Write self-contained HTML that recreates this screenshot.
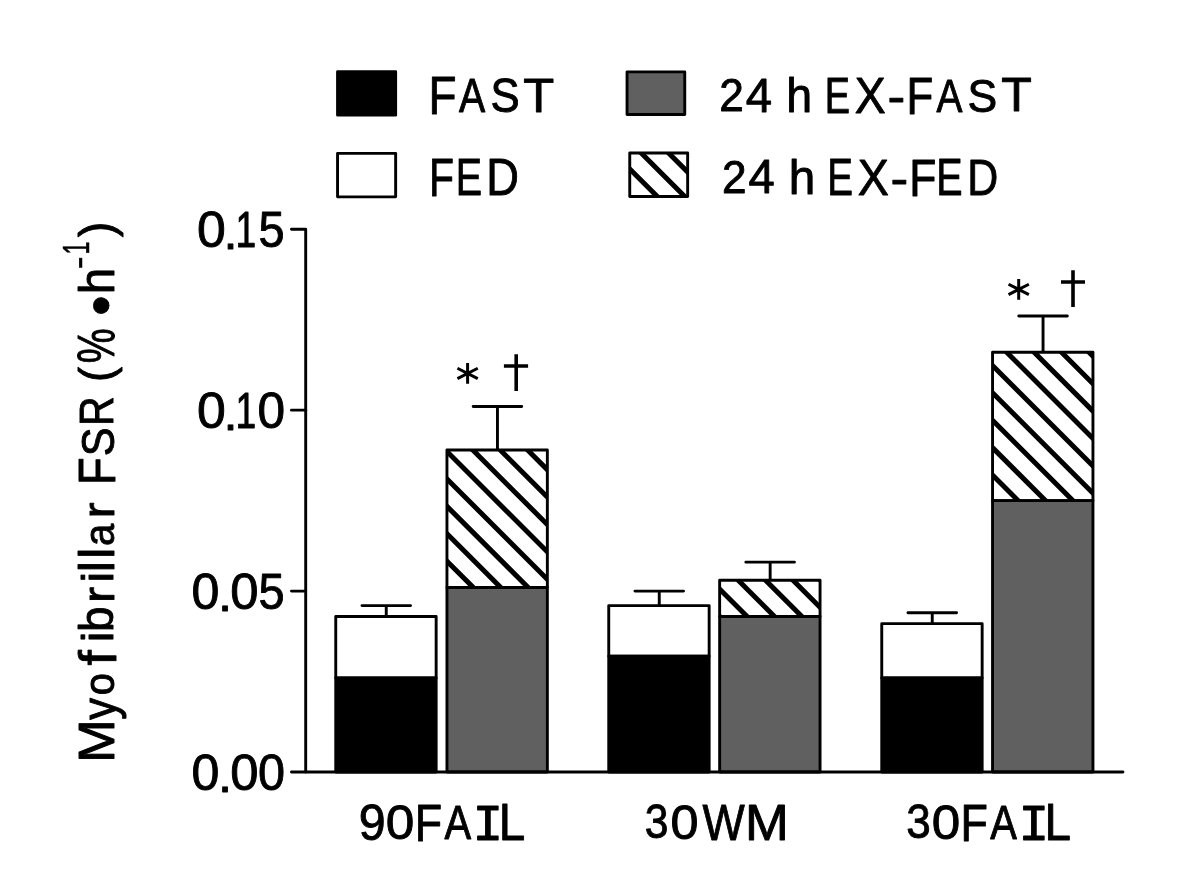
<!DOCTYPE html>
<html lang="en"><head><meta charset="utf-8"><title>Myofibrillar FSR</title>
<style>html,body{margin:0;padding:0;background:#fff}body{width:1200px;height:895px;overflow:hidden}svg{display:block}g.t{will-change:opacity}rect{stroke-linejoin:round}text{font-family:"Liberation Sans",sans-serif;fill:#000;white-space:pre;stroke:#000;stroke-linejoin:round}.m{font-family:"Liberation Mono",monospace}</style>
</head><body>
<svg width="1200" height="895" viewBox="0 0 1200 895">
<defs><clipPath id="c1"><rect x="446.95" y="449.96" width="100.4" height="137.52"/></clipPath><clipPath id="c3"><rect x="719.65" y="580.24" width="100.4" height="36.19"/></clipPath><clipPath id="c5"><rect x="992.55" y="352.25" width="100.4" height="148.38"/></clipPath><clipPath id="cl"><rect x="629.75" y="153.05" width="57.9" height="43.4"/></clipPath></defs>
<rect width="1200" height="895" fill="#fff"/>
<path d="M386.25 616.43 V605.58 M361.95 605.58 H410.55" fill="none" stroke="#000" stroke-width="2.9" stroke-linecap="round"/>
<rect x="335.75" y="616.43" width="100.4" height="61.52" fill="#fff" stroke="#000" stroke-width="2.9"/>
<rect x="335.75" y="677.96" width="100.4" height="94.09" fill="#000" stroke="#000" stroke-width="2.9"/>
<path d="M497.45 449.96 V406.53 M473.15 406.53 H521.75" fill="none" stroke="#000" stroke-width="2.9" stroke-linecap="round"/>
<rect x="446.95" y="449.96" width="100.4" height="137.52" fill="#fff"/>
<path clip-path="url(#c1)" d="M298.38 439.96 L455.9 597.48 M325.78 439.96 L483.3 597.48 M353.18 439.96 L510.7 597.48 M380.58 439.96 L538.1 597.48 M407.98 439.96 L565.5 597.48 M435.38 439.96 L592.9 597.48 M462.78 439.96 L620.3 597.48 M490.18 439.96 L647.7 597.48 M517.58 439.96 L675.1 597.48 M544.98 439.96 L702.5 597.48" fill="none" stroke="#000" stroke-width="5"/>
<rect x="446.95" y="449.96" width="100.4" height="137.52" fill="none" stroke="#000" stroke-width="2.9"/>
<rect x="446.95" y="587.48" width="100.4" height="184.57" fill="#606060" stroke="#000" stroke-width="2.9"/>
<path d="M659.25 605.58 V591.1 M634.95 591.1 H683.55" fill="none" stroke="#000" stroke-width="2.9" stroke-linecap="round"/>
<rect x="608.75" y="605.58" width="100.4" height="50.67" fill="#fff" stroke="#000" stroke-width="2.9"/>
<rect x="608.75" y="656.24" width="100.4" height="115.81" fill="#000" stroke="#000" stroke-width="2.9"/>
<path d="M770.15 580.24 V562.15 M745.85 562.15 H794.45" fill="none" stroke="#000" stroke-width="2.9" stroke-linecap="round"/>
<rect x="719.65" y="580.24" width="100.4" height="36.19" fill="#fff"/>
<path clip-path="url(#c3)" d="M673.41 570.24 L729.6 626.43 M700.81 570.24 L757 626.43 M728.21 570.24 L784.4 626.43 M755.61 570.24 L811.8 626.43 M783.01 570.24 L839.2 626.43 M810.41 570.24 L866.6 626.43" fill="none" stroke="#000" stroke-width="5"/>
<rect x="719.65" y="580.24" width="100.4" height="36.19" fill="none" stroke="#000" stroke-width="2.9"/>
<rect x="719.65" y="616.43" width="100.4" height="155.62" fill="#606060" stroke="#000" stroke-width="2.9"/>
<path d="M932.25 623.67 V612.81 M907.95 612.81 H956.55" fill="none" stroke="#000" stroke-width="2.9" stroke-linecap="round"/>
<rect x="881.75" y="623.67" width="100.4" height="54.28" fill="#fff" stroke="#000" stroke-width="2.9"/>
<rect x="881.75" y="677.96" width="100.4" height="94.09" fill="#000" stroke="#000" stroke-width="2.9"/>
<path d="M1043.05 352.25 V316.06 M1018.75 316.06 H1067.35" fill="none" stroke="#000" stroke-width="2.9" stroke-linecap="round"/>
<rect x="992.55" y="352.25" width="100.4" height="148.38" fill="#fff"/>
<path clip-path="url(#c5)" d="M832.32 342.25 L1000.7 510.62 M859.72 342.25 L1028.1 510.62 M887.12 342.25 L1055.5 510.62 M914.52 342.25 L1082.9 510.62 M941.92 342.25 L1110.3 510.62 M969.32 342.25 L1137.7 510.62 M996.72 342.25 L1165.1 510.62 M1024.12 342.25 L1192.5 510.62 M1051.52 342.25 L1219.9 510.62 M1078.92 342.25 L1247.3 510.62" fill="none" stroke="#000" stroke-width="5"/>
<rect x="992.55" y="352.25" width="100.4" height="148.38" fill="none" stroke="#000" stroke-width="2.9"/>
<rect x="992.55" y="500.62" width="100.4" height="271.43" fill="#606060" stroke="#000" stroke-width="2.9"/>
<rect x="337.55" y="71.65" width="58.1" height="43.5" fill="#000" stroke="#000" stroke-width="2.9"/>
<rect x="337.55" y="153.35" width="58.1" height="43.5" fill="#fff" stroke="#000" stroke-width="2.9"/>
<rect x="627.05" y="71.85" width="57.7" height="42.7" fill="#606060" stroke="#000" stroke-width="2.9"/>
<rect x="628.3" y="151.6" width="60.8" height="46.3" fill="#fff"/>
<path clip-path="url(#cl)" d="M602.4 141.6 L668.7 207.9 M629.8 141.6 L696.1 207.9 M657.2 141.6 L723.5 207.9 M684.6 141.6 L750.9 207.9" fill="none" stroke="#000" stroke-width="5"/>
<rect x="629.75" y="153.05" width="57.9" height="43.4" fill="none" stroke="#000" stroke-width="2.9"/>
<path d="M467.6 363 V383.8 M457.44 368.22 L477.76 378.58 M457.44 378.58 L477.76 368.22" fill="none" stroke="#000" stroke-width="3"/>
<path d="M516.2 354.3 V391 M503.9 366 H528.1" fill="none" stroke="#000" stroke-width="3.6"/>
<path d="M1018.7 279 V299.8 M1008.54 284.22 L1028.86 294.58 M1008.54 294.58 L1028.86 284.22" fill="none" stroke="#000" stroke-width="3"/>
<path d="M1073 270.3 V306.9 M1061 282 H1085" fill="none" stroke="#000" stroke-width="3.6"/>
<g fill="none" stroke="#000" stroke-width="2.9" stroke-linecap="round" stroke-linejoin="round">
<path d="M291.45 229.2 H305.7 V772.05"/>
<path d="M291.45 772.05 H1122.95"/>
<path d="M291.45 591.1 H305.7"/>
<path d="M291.45 410.15 H305.7"/>
</g>
<g class="t">
<text y="113.2" font-size="50.2" stroke-width="0.9"><tspan x="428.62" y="114.15" font-size="53.34" textLength="28.03" lengthAdjust="spacingAndGlyphs">F</tspan><tspan x="458.89" y="112.35" font-size="47.82" textLength="26.21" lengthAdjust="spacingAndGlyphs">A</tspan><tspan x="490.43" y="112.49" font-size="47.32" textLength="29.16" lengthAdjust="spacingAndGlyphs">S</tspan><tspan x="523.33" y="112.15" font-size="48.4" textLength="30.96" lengthAdjust="spacingAndGlyphs">T</tspan></text>
<text y="194.9" font-size="50.2" stroke-width="0.9"><tspan x="428.99" y="195.55" font-size="52.91" textLength="25" lengthAdjust="spacingAndGlyphs">F</tspan><tspan x="455.87" y="194.95" font-size="52.62" textLength="26.32" lengthAdjust="spacingAndGlyphs">E</tspan><tspan x="486.28" y="194.95" font-size="51.6" textLength="32.69" lengthAdjust="spacingAndGlyphs">D</tspan></text>
<text y="113.2" font-size="50.2" stroke-width="0.9"><tspan x="719.21" y="111.05" font-size="46.4" textLength="24.59" lengthAdjust="spacingAndGlyphs">2</tspan><tspan x="745.85" y="111.85" font-size="48.84" textLength="26.3" lengthAdjust="spacingAndGlyphs">4</tspan><tspan> </tspan><tspan x="786.21" y="112.25" font-size="48.03" textLength="25.88" lengthAdjust="spacingAndGlyphs">h</tspan><tspan> </tspan><tspan x="824.73" y="112.85" font-size="50.29" textLength="25.26" lengthAdjust="spacingAndGlyphs">E</tspan><tspan x="854.67" y="113.25" font-size="50.29" textLength="30.88" lengthAdjust="spacingAndGlyphs">X</tspan><tspan x="887.54" textLength="17.72" lengthAdjust="spacingAndGlyphs">-</tspan><tspan x="906.58" y="113.75" font-size="51.6" textLength="26.79" lengthAdjust="spacingAndGlyphs">F</tspan><tspan x="936.5" y="111.85" font-size="46.8" textLength="25.9" lengthAdjust="spacingAndGlyphs">A</tspan><tspan x="967.61" y="111.8" font-size="46.04" textLength="29.69" lengthAdjust="spacingAndGlyphs">S</tspan><tspan x="1001.15" y="111.35" font-size="47.53" textLength="30.52" lengthAdjust="spacingAndGlyphs">T</tspan></text>
<text y="194.9" font-size="50.2" stroke-width="0.9"><tspan x="721.9" y="192.75" font-size="46.55" textLength="24.59" lengthAdjust="spacingAndGlyphs">2</tspan><tspan x="748.55" y="193.35" font-size="48.84" textLength="26.19" lengthAdjust="spacingAndGlyphs">4</tspan><tspan> </tspan><tspan x="788.64" y="193.85" font-size="47.89" textLength="26.5" lengthAdjust="spacingAndGlyphs">h</tspan><tspan> </tspan><tspan x="827.23" y="194.85" font-size="51.45" textLength="25.74" lengthAdjust="spacingAndGlyphs">E</tspan><tspan x="857.67" y="194.85" font-size="50.29" textLength="31.09" lengthAdjust="spacingAndGlyphs">X</tspan><tspan x="890.54" textLength="17.72" lengthAdjust="spacingAndGlyphs">-</tspan><tspan x="909.23" y="195.75" font-size="52.33" textLength="27.16" lengthAdjust="spacingAndGlyphs">F</tspan><tspan x="936.31" y="194.85" font-size="51.45" textLength="26.35" lengthAdjust="spacingAndGlyphs">E</tspan><tspan x="967.16" y="194.85" font-size="50.29" textLength="31.01" lengthAdjust="spacingAndGlyphs">D</tspan></text>
<text y="247.1" font-size="49.6" stroke-width="0.9"><tspan x="197.05" y="247.07" font-size="49.43" textLength="28.8" lengthAdjust="spacingAndGlyphs">0</tspan><tspan x="223.63" y="248.75" font-size="47.69" textLength="14.05" lengthAdjust="spacingAndGlyphs">.</tspan><tspan x="235.45" y="246.65" font-size="49.56" textLength="20.67" lengthAdjust="spacingAndGlyphs">1</tspan><tspan x="258.54" y="247.06" font-size="50.16" textLength="26.11" lengthAdjust="spacingAndGlyphs">5</tspan></text>
<text y="428.05" font-size="49.6" stroke-width="0.9"><tspan x="197.05" y="428.02" font-size="49.43" textLength="28.8" lengthAdjust="spacingAndGlyphs">0</tspan><tspan x="223.63" y="429.7" font-size="47.69" textLength="14.05" lengthAdjust="spacingAndGlyphs">.</tspan><tspan x="235.45" y="427.6" font-size="49.56" textLength="20.67" lengthAdjust="spacingAndGlyphs">1</tspan><tspan x="257.51" y="428.02" font-size="49.43" textLength="27.57" lengthAdjust="spacingAndGlyphs">0</tspan></text>
<text y="609" font-size="49.6" stroke-width="0.9"><tspan x="191.6" y="608.97" font-size="49.43" textLength="27.91" lengthAdjust="spacingAndGlyphs">0</tspan><tspan x="218.03" y="610.65" font-size="47.69" textLength="14.05" lengthAdjust="spacingAndGlyphs">.</tspan><tspan x="230.28" y="608.97" font-size="49.43" textLength="28.24" lengthAdjust="spacingAndGlyphs">0</tspan><tspan x="258.54" y="608.96" font-size="50.16" textLength="26.11" lengthAdjust="spacingAndGlyphs">5</tspan></text>
<text y="789.95" font-size="49.6" stroke-width="0.9"><tspan x="191.6" y="789.92" font-size="49.43" textLength="27.91" lengthAdjust="spacingAndGlyphs">0</tspan><tspan x="218.03" y="791.6" font-size="47.69" textLength="14.05" lengthAdjust="spacingAndGlyphs">.</tspan><tspan x="230.28" y="789.92" font-size="49.43" textLength="28.24" lengthAdjust="spacingAndGlyphs">0</tspan><tspan x="258.04" y="789.92" font-size="49.43" textLength="27.01" lengthAdjust="spacingAndGlyphs">0</tspan></text>
<text y="840" font-size="51" stroke-width="0.9"><tspan x="358.77" y="840.06" font-size="49.86" textLength="26.88" lengthAdjust="spacingAndGlyphs">9</tspan><tspan x="385.76" y="839.07" font-size="49.01" textLength="28.57" lengthAdjust="spacingAndGlyphs">0</tspan><tspan x="414.7" y="840.55" font-size="52.47" textLength="27.41" lengthAdjust="spacingAndGlyphs">F</tspan><tspan x="444.4" y="839.15" font-size="47.68" textLength="26.6" lengthAdjust="spacingAndGlyphs">A</tspan><tspan x="472.6" class="m" y="839.55" font-size="51.01" textLength="30.76" lengthAdjust="spacingAndGlyphs">I</tspan><tspan x="498.81" y="840.25" font-size="51.45" textLength="26.45" lengthAdjust="spacingAndGlyphs">L</tspan></text>
<text y="840" font-size="51" stroke-width="0.9"><tspan x="644.78" y="838.49" font-size="47.6" textLength="23.69" lengthAdjust="spacingAndGlyphs">3</tspan><tspan x="670.4" y="839.08" font-size="48.45" textLength="28" lengthAdjust="spacingAndGlyphs">0</tspan><tspan x="702.51" y="839.75" font-size="49.86" textLength="42.24" lengthAdjust="spacingAndGlyphs">W</tspan><tspan x="745.02" y="839.55" font-size="49.56" textLength="43.77" lengthAdjust="spacingAndGlyphs">M</tspan></text>
<text y="840" font-size="51" stroke-width="0.9"><tspan x="906.24" y="838.49" font-size="47.6" textLength="24.48" lengthAdjust="spacingAndGlyphs">3</tspan><tspan x="931.67" y="839.07" font-size="49.01" textLength="28.46" lengthAdjust="spacingAndGlyphs">0</tspan><tspan x="960.5" y="840.55" font-size="52.47" textLength="27.41" lengthAdjust="spacingAndGlyphs">F</tspan><tspan x="990.2" y="839.15" font-size="47.68" textLength="26.6" lengthAdjust="spacingAndGlyphs">A</tspan><tspan x="1018.4" class="m" y="839.55" font-size="51.01" textLength="30.76" lengthAdjust="spacingAndGlyphs">I</tspan><tspan x="1044.61" y="840.25" font-size="51.45" textLength="26.45" lengthAdjust="spacingAndGlyphs">L</tspan></text>
<g transform="translate(0,759) rotate(-90)">
<text y="114.2" font-size="50.3" stroke-width="0.9"><tspan x="-3.71" y="114.25" font-size="50" textLength="43.41" lengthAdjust="spacingAndGlyphs">M</tspan><tspan x="39.31" y="115.61" font-size="47.43" textLength="21.77" lengthAdjust="spacingAndGlyphs">y</tspan><tspan x="63.74" y="113.83" font-size="43.26" textLength="22.11" lengthAdjust="spacingAndGlyphs">o</tspan><tspan x="93.52" y="116.05" font-size="51.96" textLength="15.3" lengthAdjust="spacingAndGlyphs">f</tspan><tspan x="116.7" y="112.95" font-size="45.13" textLength="10.63" lengthAdjust="spacingAndGlyphs">i</tspan><tspan x="127.07" y="113.38" font-size="48.2" textLength="25.53" lengthAdjust="spacingAndGlyphs">b</tspan><tspan x="156.31" y="114.25" font-size="44.79" textLength="15.81" lengthAdjust="spacingAndGlyphs">r</tspan><tspan x="176.6" y="112.95" font-size="45.13" textLength="10.63" lengthAdjust="spacingAndGlyphs">i</tspan><tspan x="186.89" y="113.85" font-size="49.41" textLength="11.1" lengthAdjust="spacingAndGlyphs">l</tspan><tspan x="200.29" y="113.85" font-size="49.41" textLength="11.1" lengthAdjust="spacingAndGlyphs">l</tspan><tspan x="213.12" y="113.83" font-size="43.26" textLength="22.27" lengthAdjust="spacingAndGlyphs">a</tspan><tspan x="240.81" y="114.25" font-size="44.79" textLength="15.81" lengthAdjust="spacingAndGlyphs">r</tspan></text>
<text y="114.2" font-size="50.3" stroke-width="0.9"><tspan x="274.08" y="114.85" font-size="52.33" textLength="27.65" lengthAdjust="spacingAndGlyphs">F</tspan><tspan x="302.65" y="113.79" font-size="46.89" textLength="28.82" lengthAdjust="spacingAndGlyphs">S</tspan><tspan x="333.01" y="113.15" font-size="48.26" textLength="29.72" lengthAdjust="spacingAndGlyphs">R</tspan></text>
<text y="114.2" font-size="50.3" stroke-width="0.9"><tspan x="377.12" y="112.42" font-size="47.01" textLength="15.11" lengthAdjust="spacingAndGlyphs">(</tspan><tspan x="395.66" y="113.54" font-size="52.31" textLength="34.88" lengthAdjust="spacingAndGlyphs">%</tspan></text>
<text y="114.2" font-size="50.3" stroke-width="0.9"><tspan x="443.16" y="119.8" font-size="56.46" textLength="20.38" lengthAdjust="spacingAndGlyphs">•</tspan></text>
<text y="114.2" font-size="50.3" stroke-width="0.9"><tspan x="464.64" y="113.95" font-size="49.27" textLength="26.41" lengthAdjust="spacingAndGlyphs">h</tspan></text>
<text y="90.4" font-size="36" stroke-width="0.4"><tspan x="489.79" textLength="12.92" lengthAdjust="spacingAndGlyphs">-</tspan></text>
<text y="89.5" font-size="36" stroke-width="0.6"><tspan x="504.42" y="89.4" font-size="36.48" textLength="12.92" lengthAdjust="spacingAndGlyphs">1</tspan></text>
<text y="114.2" font-size="50.3" stroke-width="0.9"><tspan x="521.87" y="112.63" font-size="47.44" textLength="15.59" lengthAdjust="spacingAndGlyphs">)</tspan></text>
</g>
</g>
</svg>
</body></html>
